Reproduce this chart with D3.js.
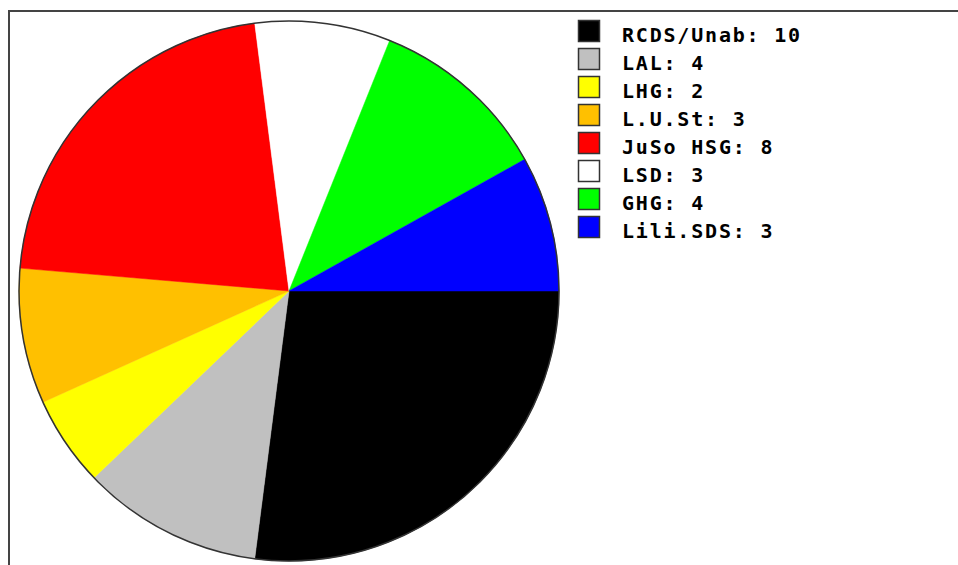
<!DOCTYPE html>
<html>
<head>
<meta charset="utf-8">
<script src="https://cdn.jsdelivr.net/npm/d3@7"></script>
<style>
  body { margin: 0; background: #fff; }
  svg { display: block; }
</style>
</head>
<body>
<svg id="chart"></svg>
<script>
const parties = ['RCDS/Unab', 'LAL', 'LHG', 'L.U.St', 'JuSo HSG', 'LSD', 'GHG', 'Lili.SDS'];
const seats = [10, 4, 2, 3, 8, 3, 4, 3];
const colors = ['#000000', '#c0c0c0', '#ffff00', '#ffc000', '#ff0000', '#ffffff', '#00ff00', '#0000ff'];

const width = 958;
const height = 565;
const cx = 289;
const cy = 291;
const radius = 270;

const svg = d3.select('#chart')
  .attr('width', width)
  .attr('height', height);

// frame: only left and top edges are visible
svg.append('path')
  .attr('d', 'M9,565V11H958')
  .attr('fill', 'none')
  .attr('stroke', '#444')
  .attr('stroke-width', 2);

const data = parties.map((p, i) => ({ name: p, value: seats[i], color: colors[i] }));

// start at 3 o'clock, clockwise
const pie = d3.pie()
  .sort(null)
  .value(d => d.value)
  .startAngle(Math.PI / 2)
  .endAngle(Math.PI / 2 + 2 * Math.PI);

const arc = d3.arc().innerRadius(0).outerRadius(radius);

const g = svg.append('g')
  .attr('transform', `translate(${ cx }, ${ cy })`);

g.selectAll('path.slice')
  .data(pie(data))
  .enter()
  .append('path')
  .attr('class', 'slice')
  .attr('d', arc)
  .attr('fill', d => d.data.color)
  .attr('stroke', d => d.data.color)
  .attr('stroke-width', 0.5);

g.append('circle')
  .attr('r', radius)
  .attr('fill', 'none')
  .attr('stroke', '#333')
  .attr('stroke-width', 1.5);

// legend
const legend = svg.append('g')
  .attr('transform', 'translate(578, 20)');

const rowH = 28;

const row = legend.selectAll('g.row')
  .data(data)
  .enter()
  .append('g')
  .attr('class', 'row')
  .attr('transform', (d, i) => `translate(0, ${ i * rowH })`);

row.append('rect')
  .attr('x', 0.5)
  .attr('y', 0.5)
  .attr('width', 21)
  .attr('height', 21)
  .attr('fill', d => d.color)
  .attr('stroke', '#333')
  .attr('stroke-width', 1.5);

row.append('text')
  .attr('x', 44)
  .attr('y', 21.5)
  .attr('font-family', 'DejaVu Sans Mono, monospace')
  .attr('font-weight', 'bold')
  .attr('font-size', 20)
  .attr('letter-spacing', 1.8)
  .attr('fill', '#000')
  .text(d => `${ d.name }: ${ d.value }`);
</script>
</body>
</html>
